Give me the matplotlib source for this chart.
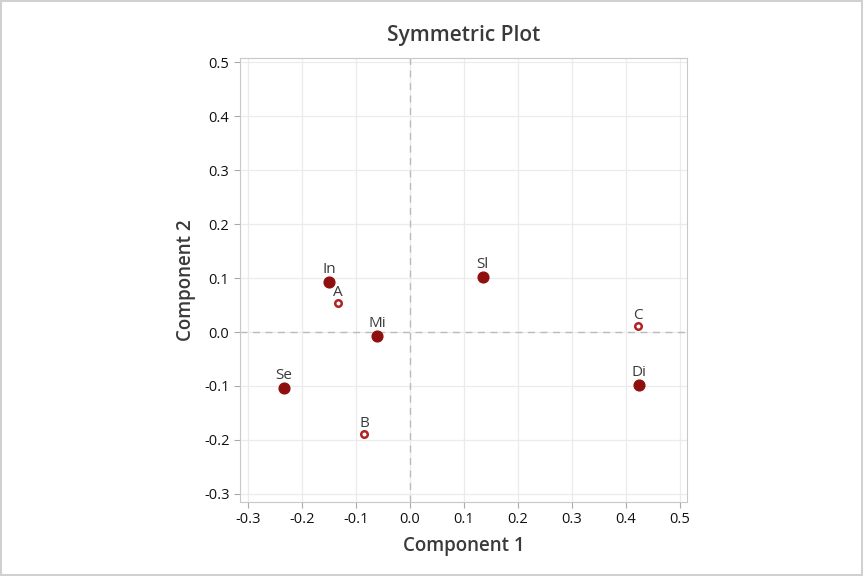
import matplotlib.pyplot as plt

row_labels = ["In", "Mi", "Se", "Sl", "Di"]
row_x = [-0.150, -0.061, -0.233, 0.135, 0.424]
row_y = [0.093, -0.007, -0.104, 0.102, -0.098]

col_labels = ["A", "B", "C"]
col_x = [-0.133, -0.085, 0.422]
col_y = [0.054, -0.189, 0.011]

xticks = [-0.3, -0.2, -0.1, 0.0, 0.1, 0.2, 0.3, 0.4, 0.5]
yticks = [-0.3, -0.2, -0.1, 0.0, 0.1, 0.2, 0.3, 0.4, 0.5]

plt.rcParams['font.family'] = ['Open Sans', 'DejaVu Sans']
red = '#8f0f0f'
txt = '#3a3a3a'

fig = plt.figure(figsize=(8.63, 5.76), dpi=100)
fig.patch.set_edgecolor('#d0d0d0')
fig.patch.set_linewidth(1.5)
ax = fig.add_axes([0.278, 0.1285, 0.518, 0.7708])

ax.axvline(0, color='#bbbbbb', ls=(0, (5, 4)), lw=1, zorder=1)
ax.axhline(0, color='#bbbbbb', ls=(0, (5, 4)), lw=1, zorder=1)

ax.scatter(row_x, row_y, s=60, color=red, zorder=3)
ax.scatter(col_x, col_y, s=22, facecolor='white', edgecolor='#b22222', linewidth=1.8, zorder=3)

for lab, x, y in zip(row_labels, row_x, row_y):
    ax.annotate(lab, (x, y), xytext=(0, 3.5), textcoords='offset points',
                ha='center', va='bottom', fontsize=11, color=txt)
for lab, x, y in zip(col_labels, col_x, col_y):
    ax.annotate(lab, (x, y), xytext=(0, 2), textcoords='offset points',
                ha='center', va='bottom', fontsize=11, color=txt)

ax.set_xlim(-0.315, 0.513)
ax.set_ylim(-0.315, 0.508)
ax.set_xticks(xticks)
ax.set_yticks(yticks)
ax.set_xticklabels([f"{v:.1f}" for v in xticks])
ax.set_yticklabels([f"{v:.1f}" for v in yticks])
ax.grid(True, color='#ebebeb', lw=0.9)
ax.set_axisbelow(True)
for s in ax.spines.values():
    s.set_color('#c8c8c8')
ax.tick_params(colors='#aaaaaa', labelcolor='#111111', labelsize=10.5, length=4)

ax.set_xlabel("Component 1", fontsize=13.5, fontweight='semibold', color=txt, labelpad=6)
ax.set_ylabel("Component 2", fontsize=13.5, fontweight='semibold', color=txt, labelpad=6)
ax.set_title("Symmetric Plot", fontsize=15, fontweight='semibold', color=txt, pad=12)

fig.savefig("out.png", dpi=100)
